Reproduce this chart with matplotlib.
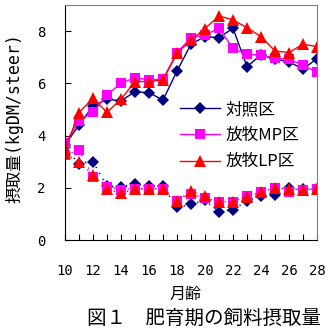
#!/usr/bin/env python3

import numpy as np
import matplotlib
matplotlib.use( 'Agg' )
import matplotlib.pyplot as plt

plt.rcParams['font.family'] = [ 'Noto Sans CJK JP', 'DejaVu Sans' ]

# 月齢
months = np.arange( 10, 29 )

# upper curves (rising)
ctrl_up = [ 3.65, 4.40, 5.13, 5.39, 5.33, 5.68, 5.64, 5.36, 6.47, 7.50,
            7.79, 7.75, 8.11, 6.64, 7.09, 6.92, 6.83, 6.54, 6.95 ]
mp_up   = [ 3.70, 4.56, 4.89, 5.56, 6.00, 6.22, 6.13, 6.16, 7.18, 7.75,
            7.85, 8.11, 7.34, 7.11, 7.09, 6.96, 6.92, 6.70, 6.42 ]
lp_up   = [ 3.45, 4.88, 5.43, 4.89, 5.39, 6.07, 6.07, 6.13, 7.15, 7.66,
            8.10, 8.58, 8.43, 8.13, 7.79, 7.24, 7.18, 7.50, 7.41 ]

# lower curves (falling)
ctrl_lo = [ 3.55, 2.92, 3.00, 2.05, 2.02, 2.15, 2.07, 2.05, 1.25, 1.36,
            1.53, 1.07, 1.16, 1.50, 1.68, 1.74, 2.00, 1.95, 1.95 ]
mp_lo   = [ 3.25, 3.45, 2.43, 2.04, 1.92, 1.97, 1.97, 1.97, 1.51, 1.78,
            1.60, 1.47, 1.47, 1.69, 1.84, 2.00, 1.85, 1.92, 1.95 ]
lp_lo   = [ 3.32, 3.00, 2.50, 1.95, 1.79, 1.95, 1.95, 1.97, 1.50, 1.87,
            1.69, 1.47, 1.47, 1.66, 1.84, 2.00, 1.95, 1.92, 1.95 ]

labels = [ '対照区', '放牧MP区', '放牧LP区' ]
colors = [ '#000080', '#ff00ff', '#ff0000' ]
marks  = [ 'D', 's', '^' ]
msize  = [ 6.5, 7.5, 8.0 ]

fig = plt.figure( figsize = ( 3.28, 3.31 ), dpi = 100 )
ax  = fig.add_axes( [ 65/328, 1-240/331, 252/328, 235/331 ] )

ups = [ ctrl_up, mp_up, lp_up ]
los = [ ctrl_lo, mp_lo, lp_lo ]
handles = []
for i in range( 3 ):
    h, = ax.plot( months, ups[i], c = colors[i], lw = 1.0, marker = marks[i],
                  ms = msize[i], mec = colors[i], mew = 0, label = labels[i] )
    ax.plot( months, los[i], c = colors[i], lw = 1.0, ls = ( 0, ( 1, 4 ) ),
             marker = marks[i], ms = msize[i], mec = colors[i], mew = 0 )
    handles.append( h )

ax.set_xlim( 10, 28 )
ax.set_ylim( 0, 9 )
ax.set_xticks( np.arange( 10, 29, 2 ) )
ax.set_xticks( months, minor = True )
ax.set_yticks( [ 0, 2, 4, 6, 8 ] )
ax.tick_params( axis = 'x', which = 'both', direction = 'in', length = 4,
                pad = 17, labelsize = 10, width = 0.8 )
ax.tick_params( axis = 'y', direction = 'in', length = 4, pad = 14,
                labelsize = 10, width = 0.8 )
for t in ax.get_xticklabels() + ax.get_yticklabels():
    t.set_family( 'DejaVu Sans Mono' )

for s in [ 'top', 'right' ]:
    ax.spines[s].set_color( '#808070' )

ax.set_ylabel( '摂取量(kgDM/steer)', fontsize = 12,
               family = [ 'DejaVu Sans Mono', 'Noto Sans CJK JP' ] )
ax.yaxis.set_label_coords( -0.165, 0.52 )

fig.text( 186/328, 1-294/331, '月齢', fontsize = 11.5, ha = 'center', va = 'center' )
fig.text( 204/328, 1-318/331, '図１　肥育期の飼料摂取量', fontsize = 14,
          ha = 'center', va = 'center' )

leg = fig.legend( handles = handles, loc = 'upper left',
                  bbox_to_anchor = ( 180/328, 1-101/331 ), frameon = False,
                  fontsize = 12, handlelength = 2.4, handletextpad = 0.35,
                  labelspacing = 0.55, borderpad = 0, borderaxespad = 0 )

plt.savefig( 'out.png', dpi = 100 )
